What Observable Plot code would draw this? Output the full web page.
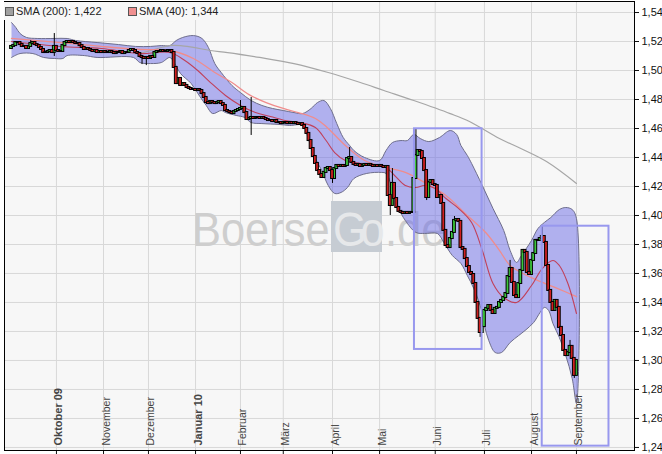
<!DOCTYPE html>
<html>
<head>
<meta charset="utf-8">
<script src="https://cdn.jsdelivr.net/npm/d3@7"></script>
<script src="https://cdn.jsdelivr.net/npm/@observablehq/plot@0.6"></script>
<style>
  html, body { margin: 0; padding: 0; background: #ffffff; }
  #wrap { position: relative; width: 662px; height: 454px; font-family: "Liberation Sans", Arial, sans-serif; }
  #legend { position: absolute; left: 4px; top: 2px; width: 216px; height: 18px; background: #f7f7f7; font-size: 11px; color: #222; }
  #legend .sw { position: absolute; top: 5px; width: 7px; height: 7px; border: 1px solid #555; }
  #legend .lt { position: absolute; top: 3px; white-space: nowrap; line-height: 12px; }
</style>
</head>
<body>
<div id="wrap"><div id="chart"></div><div id="legend"></div></div>
<script>
// ---- Daily closes (trading-day index 0..264), Sep 2009 - Sep 2010 ----
const closes = [
  1.5166, 1.5172, 1.5193, 1.5193, 1.5179, 1.5166, 1.5166, 1.5152, 1.5166, 1.5186,
  1.5193, 1.5179, 1.5172, 1.5159, 1.5145, 1.5124, 1.5124, 1.5131, 1.5138, 1.5124,
  1.5166, 1.5138, 1.5131, 1.5131, 1.5172, 1.5193, 1.5200, 1.5193, 1.5200, 1.5193,
  1.5186, 1.5186, 1.5172, 1.5159, 1.5145, 1.5152, 1.5145, 1.5138, 1.5131, 1.5138,
  1.5124, 1.5131, 1.5124, 1.5131, 1.5124, 1.5124, 1.5131, 1.5124, 1.5117, 1.5124,
  1.5124, 1.5131, 1.5117, 1.5124, 1.5124, 1.5138, 1.5145, 1.5138, 1.5124, 1.5117,
  1.5097, 1.5090, 1.5083, 1.5090, 1.5083, 1.5097, 1.5090, 1.5124, 1.5131, 1.5131,
  1.5138, 1.5131, 1.5131, 1.5138, 1.5138, 1.5124, 1.5021, 1.4910, 1.4945, 1.4897,
  1.4910, 1.4897, 1.4883, 1.4876, 1.4869, 1.4869, 1.4862, 1.4869, 1.4862, 1.4841,
  1.4814, 1.4779, 1.4772, 1.4786, 1.4779, 1.4772, 1.4779, 1.4786, 1.4772, 1.4759,
  1.4724, 1.4717, 1.4710, 1.4703, 1.4717, 1.4724, 1.4731, 1.4738, 1.4745, 1.4710,
  1.4662, 1.4669, 1.4676, 1.4669, 1.4676, 1.4676, 1.4669, 1.4676, 1.4669, 1.4662,
  1.4655, 1.4655, 1.4648, 1.4655, 1.4641, 1.4641, 1.4634, 1.4641, 1.4641, 1.4634,
  1.4641, 1.4634, 1.4641, 1.4634, 1.4628, 1.4634, 1.4621, 1.4600, 1.4566, 1.4517,
  1.4462, 1.4407, 1.4359, 1.4310, 1.4283, 1.4262, 1.4297, 1.4324, 1.4331, 1.4310,
  1.4255, 1.4324, 1.4345, 1.4338, 1.4345, 1.4338, 1.4345, 1.4393, 1.4400, 1.4366,
  1.4352, 1.4345, 1.4352, 1.4338, 1.4345, 1.4352, 1.4345, 1.4352, 1.4345, 1.4338,
  1.4345, 1.4338, 1.4345, 1.4338, 1.4331, 1.4338, 1.4138, 1.4069, 1.4221, 1.4117,
  1.4055, 1.4028, 1.4021, 1.4014, 1.4021, 1.4014, 1.4021, 1.4021, 1.4255, 1.4414,
  1.4448, 1.4441, 1.4393, 1.4310, 1.4124, 1.4228, 1.4241, 1.4214, 1.4207, 1.4124,
  1.4138, 1.4083, 1.3897, 1.3793, 1.3779, 1.3841, 1.3883, 1.3966, 1.3972, 1.3959,
  1.3779, 1.3766, 1.3703, 1.3648, 1.3607, 1.3593, 1.3531, 1.3400, 1.3290, 1.3193,
  1.3234, 1.3345, 1.3359, 1.3379, 1.3345, 1.3324, 1.3359, 1.3366, 1.3400, 1.3414,
  1.3434, 1.3462, 1.3579, 1.3634, 1.3538, 1.3448, 1.3434, 1.3531, 1.3621, 1.3759,
  1.3745, 1.3607, 1.3593, 1.3690, 1.3738, 1.3828, 1.3828, 1.3841, 1.3855, 1.3814,
  1.3655, 1.3483, 1.3400, 1.3345, 1.3414, 1.3366, 1.3228, 1.3172, 1.3069, 1.3034,
  1.3055, 1.3097, 1.3014, 1.2897, 1.3000
];
const firstOpen = 1.5152;

// notable wicks (index, high, low)
const wickIdx  = [9, 20, 61, 63, 107, 112, 150, 158, 177, 178, 189, 194, 207, 219, 233, 248, 261, 263];
const wickHigh = [1.5207, 1.5255, null, null, 1.4793, 1.4814, null, 1.4469, null, 1.4324, 1.4600, null, 1.3993, null, 1.3690, 1.3931, 1.3138, null];
const wickLow  = [null, 1.5097, 1.5041, 1.5034, null, 1.4552, 1.4221, null, 1.4000, null, null, 1.4103, null, 1.3159, null, null, null, 1.2876];

// Bollinger bands
const upperIdx = [0,2,4,7,12,20,26,30,40,50,58,65,70,74,77,80,85,89,92,95,98,103,107,112,117,122,127,132,136,140,143,146,149,152,155,158,160,165,172,175,178,182,185,188,191,195,200,205,208,210,213,215,220,225,230,233,236,238,243,246,249,252,256,259,262,264];
const upperVal = [1.5331,1.5297,1.5255,1.5228,1.5221,1.5221,1.5221,1.5207,1.5193,1.5179,1.5166,1.5166,1.5172,1.5172,1.5207,1.5228,1.5241,1.5221,1.5159,1.5048,1.4986,1.4897,1.4848,1.4793,1.4759,1.4738,1.4724,1.4710,1.4703,1.4738,1.4779,1.4793,1.4738,1.4634,1.4538,1.4483,1.4448,1.4400,1.4379,1.4448,1.4503,1.4517,1.4517,1.4559,1.4531,1.4510,1.4538,1.4586,1.4559,1.4483,1.4414,1.4359,1.4207,1.4048,1.3897,1.3759,1.3676,1.3717,1.3828,1.3910,1.3952,1.3986,1.4041,1.4055,1.4041,1.3979];
const lowerIdx = [0,4,10,15,20,24,26,34,40,57,60,65,70,74,76,79,84,88,91,94,98,100,105,109,112,117,125,130,136,139,142,145,148,151,154,157,160,166,173,175,178,181,184,189,193,199,202,206,210,213,216,219,221,223,226,229,233,237,240,244,247,249,251,253,256,259,262,264];
const lowerVal = [1.5090,1.5117,1.5117,1.5090,1.5083,1.5083,1.5103,1.5103,1.5090,1.5090,1.5055,1.5048,1.5055,1.5090,1.5055,1.4979,1.4910,1.4821,1.4759,1.4703,1.4724,1.4710,1.4690,1.4676,1.4641,1.4634,1.4628,1.4621,1.4621,1.4517,1.4393,1.4310,1.4207,1.4152,1.4159,1.4193,1.4255,1.4290,1.4297,1.4290,1.4186,1.4048,1.3966,1.3883,1.3876,1.3876,1.3814,1.3724,1.3669,1.3586,1.3497,1.3379,1.3241,1.3138,1.3055,1.3055,1.3124,1.3172,1.3207,1.3262,1.3331,1.3366,1.3345,1.3255,1.3159,1.3034,1.2876,1.2703];
const midIdx = [0,23,42,60,74,81,87,93,100,107,114,121,128,135,142,147,151,156,163,170,175,179,184,189,193,198,203,209,215,220,225,230,236,243,248,253,256,260,264];
const midVal = [1.5200,1.5166,1.5152,1.5117,1.5124,1.5069,1.5000,1.4917,1.4828,1.4759,1.4710,1.4683,1.4655,1.4641,1.4607,1.4517,1.4434,1.4379,1.4359,1.4345,1.4331,1.4276,1.4207,1.4193,1.4207,1.4186,1.4117,1.4048,1.3952,1.3759,1.3531,1.3434,1.3400,1.3517,1.3634,1.3690,1.3655,1.3531,1.3324];

// SMA 40 and SMA 200
const sma40Idx = [0,23,42,60,74,85,95,103,111,119,127,134,142,147,156,165,175,184,193,203,212,222,228,233,239,247,255,264];
const sma40Val = [1.5221,1.5193,1.5166,1.5145,1.5138,1.5083,1.4986,1.4917,1.4834,1.4779,1.4738,1.4710,1.4669,1.4614,1.4483,1.4379,1.4331,1.4297,1.4228,1.4138,1.4014,1.3876,1.3759,1.3655,1.3600,1.3545,1.3497,1.3441];
const sma200Idx = [60,65,70,74,79,85,93,101,116,132,148,163,174,188,205,214,228,238,250,264];
const sma200Val = [1.5117,1.5138,1.5159,1.5172,1.5172,1.5159,1.5138,1.5124,1.5090,1.5048,1.4986,1.4917,1.4862,1.4793,1.4703,1.4648,1.4531,1.4462,1.4372,1.4221];

// drawn annotation rectangles
const rectX1 = [188.3, 248.0];
const rectX2 = [219.9, 279.2];
const rectLow = [1.3076, 1.2409];
const rectHigh = [1.4598, 1.3926];

// axes
const monthIdx = [21, 43, 64, 86, 107, 127, 150, 172, 198, 221, 243, 264];
const monthLabels = ["Oktober 09", "November", "Dezember", "Januar 10", "Februar", "März", "April", "Mai", "Juni", "Juli", "August", "September"];
const yTicks = [1.24, 1.26, 1.28, 1.30, 1.32, 1.34, 1.36, 1.38, 1.40, 1.42, 1.44, 1.46, 1.48, 1.50, 1.52, 1.54];

// ---- build tables ----
const candles = closes.map((c, i) => {
  const o = i === 0 ? firstOpen : closes[i - 1];
  const k = wickIdx.indexOf(i);
  const hi = (k >= 0 && wickHigh[k] != null) ? wickHigh[k] : Math.max(o, c);
  const lo = (k >= 0 && wickLow[k] != null) ? wickLow[k] : Math.min(o, c);
  return {i, o, c, hi, lo, top: Math.max(o, c), bot: Math.min(o, c), up: c > o};
});
const pts = (idx, val) => idx.map((i, k) => ({i, v: val[k]}));
const bandPts = pts(upperIdx, upperVal).concat(pts(lowerIdx, lowerVal).reverse());
const months = monthIdx.map((i, k) => ({i, label: monthLabels[k], bold: /\d/.test(monthLabels[k])}));
const rects = rectX1.map((x1, k) => ({x1, x2: rectX2[k], y1: rectLow[k], y2: rectHigh[k]}));
const fmt = v => v.toFixed(2).replace(".", ",");
const fmt3 = v => v.toFixed(3).replace(".", ",");

// watermark (decoration, one text element)
function watermark() {
  const g = d3.create("svg:g");
  g.append("rect").attr("x", 331).attr("y", 201).attr("width", 51).attr("height", 51).attr("fill", "#c6ccd3");
  const t = g.append("text")
    .attr("font-family", "'Liberation Sans', Arial, sans-serif")
    .attr("font-size", 48)
    .attr("text-anchor", "start")
    .attr("fill", "#cecece")
    .attr("transform", "translate(192,246) scale(0.905,1)");
  t.append("tspan").attr("x", 0).text("Boerse");
  t.append("tspan").attr("x", 155.8).attr("fill", "#e6e8ea").attr("letter-spacing", -7).text("Go");
  t.append("tspan").attr("x", 213.3).text(".de");
  return g.node();
}

const curve = "catmull-rom";
const chart = Plot.plot({
  width: 662,
  height: 454,
  marginLeft: 4,
  marginRight: 28,
  marginTop: 1,
  marginBottom: 4,
  style: {fontFamily: "'Liberation Sans', Arial, sans-serif", fontSize: "11px", background: "transparent", color: "#111"},
  x: {type: "linear", domain: [-3.27, 291.12], axis: null},
  y: {type: "linear", domain: [1.2379, 1.5476], axis: null},
  marks: [
    Plot.frame({fill: "#f7f7f7", stroke: "none"}),
    Plot.gridY(yTicks, {stroke: "#d8d8d8", strokeOpacity: 1}),
    Plot.gridX(monthIdx, {stroke: "#d8d8d8", strokeOpacity: 1}),
    watermark,
    Plot.line(bandPts, {x: "i", y: "v", curve, fill: "#6a6ae6", fillOpacity: 0.5, stroke: "#6e6e8c", strokeWidth: 1}),
    Plot.line(pts(sma200Idx, sma200Val), {x: "i", y: "v", curve, stroke: "#a6a6a6", strokeWidth: 1.2}),
    Plot.line(pts(sma40Idx, sma40Val), {x: "i", y: "v", curve, stroke: "#f08c8c", strokeWidth: 1.3}),
    Plot.line(pts(midIdx, midVal), {x: "i", y: "v", curve, stroke: "#c0405a", strokeWidth: 1.1}),
    Plot.ruleX(candles, {x: "i", y1: "lo", y2: "hi", stroke: "#000", strokeWidth: 1}),
    Plot.rect(candles.filter(d => d.up), {x1: d => d.i - 0.65, x2: d => d.i + 0.65, y1: "bot", y2: "top", insetTop: -0.5, insetBottom: -0.5, fill: "#3cc83c", stroke: "#000", strokeWidth: 1}),
    Plot.rect(candles.filter(d => !d.up), {x1: d => d.i - 0.65, x2: d => d.i + 0.65, y1: "bot", y2: "top", insetTop: -0.5, insetBottom: -0.5, fill: "#d02020", stroke: "#000", strokeWidth: 1}),
    Plot.rect(rects, {x1: "x1", x2: "x2", y1: "y1", y2: "y2", fill: "none", stroke: "#9898ee", strokeWidth: 2}),
    Plot.text(months.filter(d => d.bold), {x: "i", text: "label", frameAnchor: "bottom", rotate: -90, textAnchor: "start", dx: 6, dy: -5, fontWeight: "bold", fontSize: 11, fill: "#444"}),
    Plot.text(months.filter(d => !d.bold), {x: "i", text: "label", frameAnchor: "bottom", rotate: -90, textAnchor: "start", dx: 6, dy: -5, fontSize: 10.5, fill: "#444"}),
    Plot.axisX(monthIdx, {anchor: "bottom", tickSize: 4, tickFormat: () => "", label: null}),
    Plot.axisY(yTicks, {anchor: "right", tickSize: 4, tickPadding: 3, tickFormat: fmt, label: null, fontSize: 11}),
    Plot.frame({stroke: "#000"})
  ]
});
document.getElementById("chart").appendChild(chart);

// legend (inside the plot, top-left)
const legendItems = [
  {name: "SMA (200)", value: sma200Val[sma200Val.length - 1], color: "#a0a0a0", sw: 1, tx: 12},
  {name: "SMA (40)", value: sma40Val[sma40Val.length - 1], color: "#f09090", sw: 124, tx: 135}
];
const legend = document.getElementById("legend");
legendItems.forEach(it => {
  const s = document.createElement("span");
  s.className = "sw"; s.style.left = it.sw + "px"; s.style.background = it.color;
  legend.appendChild(s);
  const t = document.createElement("span");
  t.className = "lt"; t.style.left = it.tx + "px";
  t.textContent = `${it.name}: ${fmt3(it.value)}`;
  legend.appendChild(t);
});
</script>
</body>
</html>
